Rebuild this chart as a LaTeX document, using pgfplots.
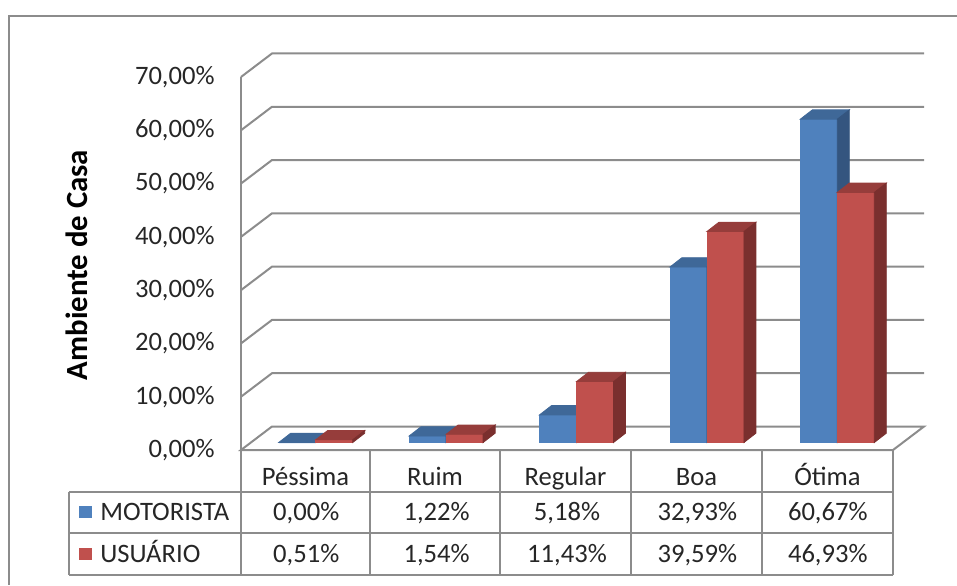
\documentclass[border=0pt]{standalone}
\usepackage{pgfplots}
\pgfplotsset{compat=1.18}
\usepackage{fontspec}
\setmainfont{Carlito}

\definecolor{motFront}{HTML}{4F81BD}
\definecolor{motTop}{HTML}{3F6898}
\definecolor{motSide}{HTML}{34557F}
\definecolor{usuFront}{HTML}{C0504D}
\definecolor{usuTop}{HTML}{963D3B}
\definecolor{usuSide}{HTML}{7A2F2E}
\definecolor{linegray}{HTML}{8C8C8C}

\newcommand{\tabfont}{\fontsize{13.3}{16}\selectfont}

\pgfplotsset{
  /pgf/number format/assume math mode=true,
  % 3-D column: #1 front, #2 top, #3 side colour, #4 left x offset of the
  % front face from the category centre (pt), #5 depth of the table row
  % baseline below the floor (pt)
  bar3d/.style n args={5}{
    scatter, only marks, mark=text, text mark={},
    visualization depends on={rawy \as \rawy},
    scatter/@pre marker code/.code={%
      \pgfmathsetmacro\hh{\rawy*2.6645}%
      \pgfmathsetmacro\xl{#4}%
      \pgfmathsetmacro\xr{#4+18.5}%
      \pgfmathsetmacro\xls{#4+6}%
      \pgfmathsetmacro\xrs{#4+24.5}%
      \pgfmathsetmacro\yb{3.75-\hh}%
      \pgfmathsetmacro\ybs{8.4-\hh}%
      \pgfmathsetmacro\yt{-\hh-#5}%
      \fill[#1] (\xl pt,\yb pt) rectangle (\xr pt,3.75pt);
      \fill[#2] (\xl pt,3.75pt) -- (\xr pt,3.75pt) -- (\xrs pt,8.4pt) -- (\xls pt,8.4pt) -- cycle;
      \fill[#3] (\xr pt,\yb pt) -- (\xr pt,3.75pt) -- (\xrs pt,8.4pt) -- (\xrs pt,\ybs pt) -- cycle;
      \node[anchor=base, inner sep=0pt, font=\tabfont, text=black!85]
        at (0pt,\yt pt) {\pgfmathprintnumber[fixed,fixed zerofill,precision=2,use comma]{\rawy}\%};
    },
    scatter/@post marker code/.code={},
  },
}

\begin{document}
\begin{tikzpicture}
\begin{axis}[
  at={(0pt,0pt)}, anchor=south west,
  x=65.2pt, y=2.6645pt,
  xmin=0, xmax=5, ymin=0, ymax=70,
  clip=false,
  axis line style={draw=none},
  xtick=\empty,
  ytick={0,10,20,30,40,50,60,70},
  major tick length=0pt,
  yticklabel={\pgfmathprintnumber[fixed,fixed zerofill,precision=2,use comma]{\tick}\%},
  yticklabel style={anchor=east, inner sep=0pt, xshift=-13pt, font=\tabfont, text=black!85},
]
% back wall gridlines with their links to the front axis
\pgfplotsinvokeforeach{10,20,30,40,50,60,70}{
  \draw[linegray, line width=1pt]
    (axis cs:0,#1) -- ++(15.5pt,11.75pt)
    -- ([shift={(15.5pt,11.75pt)}]axis cs:5,#1);
}
% floor
\draw[linegray, line width=1pt]
  (axis cs:0,0) -- ++(15.5pt,11.75pt)
  -- ([shift={(15.5pt,11.75pt)}]axis cs:5,0) -- (axis cs:5,0) -- cycle;
% front value axis
\draw[linegray, line width=1pt] (axis cs:0,0) -- (axis cs:0,70);

% MOTORISTA
\addplot[bar3d={motFront}{motTop}{motSide}{-13.75}{35}]
  coordinates {(0.5,0.00) (1.5,1.22) (2.5,5.18) (3.5,32.93) (4.5,60.67)};
% USUÁRIO
\addplot[bar3d={usuFront}{usuTop}{usuSide}{4.75}{56}]
  coordinates {(0.5,0.51) (1.5,1.54) (2.5,11.43) (3.5,39.59) (4.5,46.93)};
\end{axis}

% chart frame, data table and labels (pixel grid, origin at the top left)
\begin{scope}[shift={(-120.5pt,225pt)}, x=0.5pt, y=-0.5pt]
  \draw[linegray, line width=1pt] (957,16) -- (9,16) -- (9,585);
  \draw[linegray, line width=1pt]
    (69,492) -- (893,492)
    (69,533) -- (893,533)
    (69,575) -- (893,575)
    (69,492) -- (69,575);
  \foreach \cx in {241,370,500,631,762,893}
    \draw[linegray, line width=1pt] (\cx,450) -- (\cx,575);
  \foreach \cx/\lab in {305.5/Péssima,435/Ruim,565.5/Regular,696.5/Boa,827.5/Ótima}
    \node[anchor=base, inner sep=0pt, font=\tabfont, text=black!85] at (\cx,485) {\lab};
  \fill[motFront] (79,506) rectangle (92,518);
  \fill[usuFront] (79,548) rectangle (92,560);
  \node[anchor=base west, inner sep=0pt, font=\tabfont, text=black!85] at (100,520) {MOTORISTA};
  \node[anchor=base west, inner sep=0pt, font=\tabfont, text=black!85] at (100,562) {USUÁRIO};
  \node[rotate=90, font=\fontsize{15.4}{18}\selectfont\bfseries] at (77,265) {Ambiente de Casa};
  \pgfresetboundingbox
  \path[use as bounding box] (0,0) rectangle (957,585);
\end{scope}
\end{tikzpicture}
\end{document}
